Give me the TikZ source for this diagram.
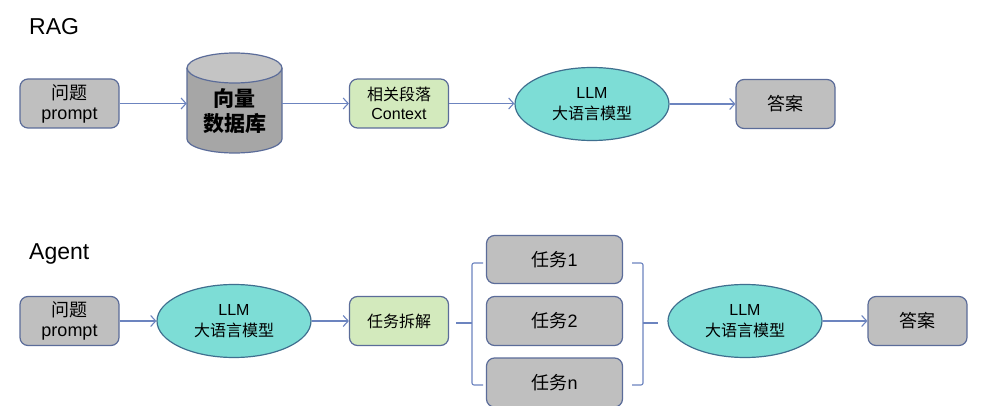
\documentclass[tikz,border=0pt]{standalone}
\usepackage{fontspec}
\setmainfont{Liberation Sans}
\newfontfamily\cjk{Noto Sans CJK SC}
\usetikzlibrary{shapes.geometric,arrows.meta}
\definecolor{boxgray}{HTML}{BFBFBF}
\definecolor{boxgreen}{HTML}{D3EABD}
\definecolor{llmc}{HTML}{7DDDD6}
\definecolor{bordc}{HTML}{5B6C99}
\definecolor{ellc}{HTML}{3F6F8F}
\definecolor{arrc}{HTML}{6C84BF}
\definecolor{dbbody}{HTML}{A6A6A6}
\definecolor{dbtop}{HTML}{C4C4C4}
\tikzset{
  box/.style={draw=bordc, line width=1.2pt, rounded corners=8pt, minimum width=99pt,
    minimum height=49pt, inner sep=0pt, align=center, font=\fontsize{18}{20}\selectfont},
  graybox/.style={box, fill=boxgray},
  greenbox/.style={box, fill=boxgreen, font=\fontsize{16}{19}\selectfont},
  llm/.style={ellipse, draw=ellc, fill=llmc, line width=1.2pt, minimum width=154pt,
    minimum height=73pt, inner sep=0pt, align=center, font=\fontsize{16}{21}\selectfont},
  arr/.style={draw=arrc, line width=1.1pt, -{Straight Barb[length=5pt,width=11pt,line width=1.1pt]}},
  bracel/.style={draw=arrc, line width=1.1pt, rounded corners=2pt},
  title/.style={anchor=west, inner sep=0pt, font=\fontsize{23}{26}\selectfont},
}
\begin{document}
\begin{tikzpicture}[x=1pt, y=-1pt]
\useasboundingbox[fill=white] (0,0) rectangle (990,406);

% ---------------- RAG ----------------
\node[title] (ragt) at (29,27) {RAG};
\node[graybox] (p1) at (69.5,103.5) {{\cjk 问题}\\prompt};

% cylinder
\fill[dbbody] (187,68) -- (187,139) arc[start angle=180, end angle=0, x radius=47.5, y radius=14] -- (282,68) -- cycle;
\draw[bordc, line width=1.2pt] (187,68) -- (187,139) arc[start angle=180, end angle=0, x radius=47.5, y radius=14] -- (282,68);
\draw[bordc, line width=1.2pt, fill=dbtop] (234.5,68) ellipse[x radius=47.5, y radius=15];
\node[minimum width=95pt, minimum height=100pt, inner sep=0pt, align=center,
  font=\cjk\bfseries\fontsize{21}{25}\selectfont] (db) at (234.5,111) {向量\\数据库};

\node[greenbox] (ctx) at (399,103.5) {{\cjk 相关段落}\\Context};
\node[llm] (llm1) at (592,104) {LLM\\{\cjk 大语言模型}};
\node[graybox, font=\cjk\fontsize{18}{20}\selectfont] (ans1) at (785.5,104) {答案};

\draw[arr] (p1.east) -- (p1.east -| db.west);
\draw[arr] (db.east |- ctx.west) -- (ctx.west);
\draw[arr] (ctx.east) -- (ctx.east -| llm1.west);
\draw[arr] (llm1.east) -- (ans1.west);

% ---------------- Agent ----------------
\node[title] (agt) at (29,254) {Agent};
\node[graybox] (p2) at (69.5,321) {{\cjk 问题}\\prompt};
\node[llm] (llm2) at (234,321) {LLM\\{\cjk 大语言模型}};
\node[greenbox, font=\cjk\fontsize{16}{19}\selectfont] (split) at (399,321) {任务拆解};

\node[graybox, minimum width=136pt, minimum height=48pt] (t1) at (554.5,259.5) {{\cjk 任务}1};
\node[graybox, minimum width=136pt, minimum height=49pt] (t2) at (554.5,321) {{\cjk 任务}2};
\node[graybox, minimum width=136pt, minimum height=49pt] (tn) at (554.5,382.5) {{\cjk 任务}n};

\node[llm] (llm3) at (745,321) {LLM\\{\cjk 大语言模型}};
\node[graybox, font=\cjk\fontsize{18}{20}\selectfont] (ans2) at (917.5,321) {答案};

\draw[arr] (p2.east) -- (llm2.west);
\draw[arr] (llm2.east) -- (split.west);
\draw[arr] (llm3.east) -- (ans2.west);

% braces
\coordinate (lbt) at (483,263);
\coordinate (lbb) at (483,385);
\coordinate (lbm) at (472,323);
\coordinate (lbs) at (456,323);
\draw[bracel] (lbt) -- (472,263) -- (472,385) -- (lbb);
\draw[bracel] (lbs) -- (lbm);
\coordinate (rbt) at (632,263);
\coordinate (rbb) at (632,385);
\coordinate (rbm) at (643,323);
\coordinate (rbs) at (658,323);
\draw[bracel] (rbt) -- (643,263) -- (643,385) -- (rbb);
\draw[bracel] (rbm) -- (rbs);
\end{tikzpicture}
\end{document}
